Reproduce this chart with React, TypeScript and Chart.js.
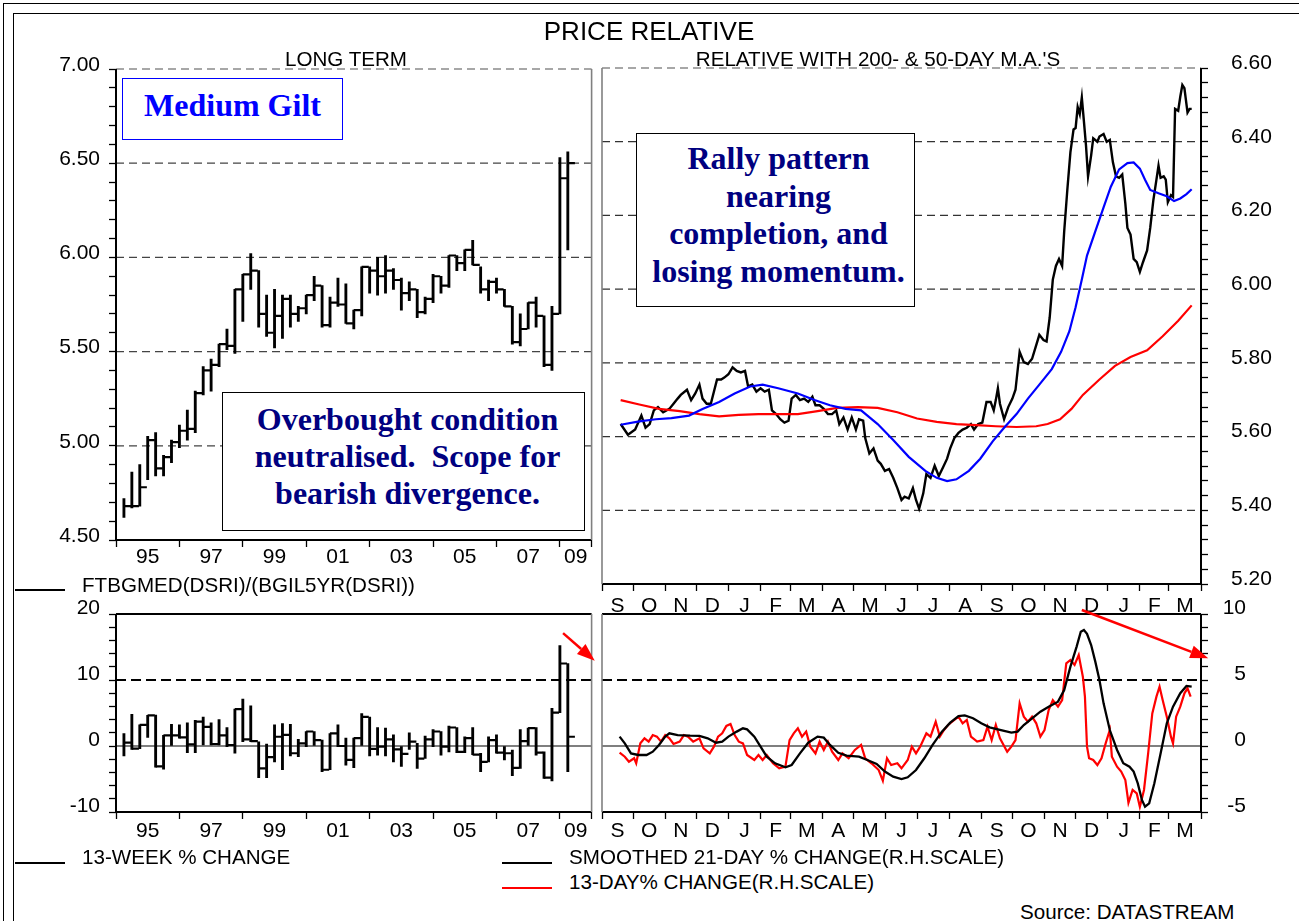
import React, { useEffect, useRef } from "react";
import { Chart, registerables } from "chart.js";

Chart.register(...registerables);

const SANS = '"Liberation Sans", Arial, Helvetica, sans-serif';
const SERIF = '"Liberation Serif", "Times New Roman", serif';
const TICK_FONT = 21;
const TEXT_FONT = 20.6;

// ================= LONG TERM (quarterly) =================
const LT_QUARTERS = [
  "1995Q1","1995Q2","1995Q3","1995Q4","1996Q1","1996Q2","1996Q3","1996Q4",
  "1997Q1","1997Q2","1997Q3","1997Q4","1998Q1","1998Q2","1998Q3","1998Q4",
  "1999Q1","1999Q2","1999Q3","1999Q4","2000Q1","2000Q2","2000Q3","2000Q4",
  "2001Q1","2001Q2","2001Q3","2001Q4","2002Q1","2002Q2","2002Q3","2002Q4",
  "2003Q1","2003Q2","2003Q3","2003Q4","2004Q1","2004Q2","2004Q3","2004Q4",
  "2005Q1","2005Q2","2005Q3","2005Q4","2006Q1","2006Q2","2006Q3","2006Q4",
  "2007Q1","2007Q2","2007Q3","2007Q4","2008Q1","2008Q2","2008Q3","2008Q4",
  "2009Q1",
];
const LT_HIGH = [4.72,4.86,4.90,5.05,5.07,4.95,5.03,5.11,5.19,5.29,5.42,5.46,5.54,5.62,5.83,5.91,6.02,5.93,5.80,5.83,5.80,5.80,5.74,5.80,5.90,5.85,5.79,5.89,5.86,5.72,5.95,5.95,6.00,6.01,5.94,5.89,5.87,5.83,5.79,5.91,5.90,6.01,6.01,6.04,6.09,5.95,5.88,5.89,5.83,5.74,5.70,5.76,5.79,5.69,5.74,6.53,6.56];
const LT_LOW = [4.62,4.67,4.68,4.82,4.84,4.84,4.91,4.99,5.03,5.07,5.27,5.29,5.42,5.51,5.49,5.66,5.83,5.63,5.58,5.52,5.57,5.63,5.66,5.70,5.77,5.63,5.63,5.74,5.65,5.62,5.69,5.81,5.80,5.81,5.83,5.72,5.77,5.68,5.70,5.76,5.81,5.84,5.93,5.93,5.96,5.81,5.77,5.81,5.74,5.54,5.53,5.62,5.63,5.42,5.40,5.70,6.04];
const LT_CLOSE = [4.68,4.68,4.78,5.03,4.88,4.94,5.02,5.08,5.09,5.28,5.40,5.43,5.54,5.53,5.83,5.91,5.93,5.70,5.60,5.69,5.78,5.70,5.73,5.80,5.85,5.64,5.76,5.75,5.65,5.72,5.95,5.93,5.90,5.93,5.88,5.81,5.83,5.71,5.78,5.90,5.85,6.01,5.97,6.04,5.96,5.83,5.87,5.83,5.74,5.55,5.62,5.76,5.69,5.43,5.70,6.42,6.50];

// 13-week % change (quarterly bars)
const W13_HIGH = [1.9,4.8,3.2,4.65,4.7,1.6,3.3,3.2,3.5,3.9,4.4,3.5,4.0,2.8,5.6,7.1,6.1,0.65,0.3,3.2,3.4,3.3,1.0,2.2,2.2,0.9,1.9,3.2,1.2,1.2,4.9,4.4,2.8,2.7,1.7,-0.1,2.0,0.4,1.5,2.5,2.2,3.0,2.8,1.4,2.8,-1.1,1.4,1.7,-0.1,-0.6,2.5,2.7,2.8,-0.9,5.7,15.2,12.5];
const W13_LOW = [-1.5,-0.5,-0.4,1.3,-3.2,-3.5,0,1.2,-1.0,-1.0,0.15,0.15,0.15,-0.1,-1.1,0.65,0.65,-4.8,-4.8,-2.4,-3.6,-1.5,-1.6,-0.1,0,-3.9,-3.6,-0.1,-2.9,-3.3,0,-1.5,-1.4,-1.5,-2.4,-3.1,-0.5,-3.4,-1.9,-0.1,-1.4,-0.9,-1.0,-1.0,-1.3,-3.9,-2.4,-1.1,-2.1,-4.5,-3.4,0,-1.4,-4.9,-5.3,5.05,-3.9];
const W13_CLOSE = [0.5,-0.4,3.2,4.65,-3.1,1.6,1.6,1.3,0.25,3.7,2.9,0.3,1.6,0.15,5.6,1.0,0.75,-3.4,-1.7,1.4,1.7,-1.1,0.4,2.2,0.9,-3.6,1.9,0,-2.1,1.2,4.4,-0.45,-0.1,1.0,-0.5,-1.2,0.65,-1.9,1.0,2.2,-0.1,2.8,-0.9,1.2,-1.3,-2.4,0.9,-1.0,-1.1,-3.3,0.75,2.7,-1.0,-4.8,5.05,12.5,1.4];

const YEAR_MARKS = [1995, 1997, 1999, 2001, 2003, 2005, 2007, 2009, 2010];
const YEAR_LABEL_POS = [1996, 1998, 2000, 2002, 2004, 2006, 2008, 2009.5];
const YEAR_LABELS = ["95", "97", "99", "01", "03", "05", "07", "09"];

// ================= DAILY (days since 1 Sep 2007) =================
const MONTH_LABELS = ["S","O","N","D","J","F","M","A","M","J","J","A","S","O","N","D","J","F","M"];
const MONTH_LENGTHS = [30,31,30,31,31,29,31,30,31,30,31,31,30,31,30,31,31,28,31];

const REL_DAYS = [18,25,32,38,42,46,50,54,59,65,69,73,76,82,86,90,94,97,101,105,111,115,118,122,126,130,134,138,141,145,149,153,157,161,164,168,172,176,180,183,187,191,195,199,203,206,210,214,218,222,226,229,233,237,241,245,248,252,254,258,262,266,269,273,277,281,285,289,292,296,300,303,306,310,313,317,321,325,329,333,336,340,344,348,352,356,359,363,367,371,375,378,380,382,384,388,392,396,399,403,407,411,415,419,422,426,429,432,435,438,441,444,446,449,452,455,457,459,461,463,465,467,469,472,474,478,480,484,487,490,493,496,499,502,505,507,510,513,516,519,522,526,529,532,535,537,539,542,544,546,549,551,553,556,558,560,562,565,567,569];
const REL_VALUES = [5.634,5.605,5.619,5.657,5.624,5.634,5.671,5.68,5.666,5.675,5.689,5.703,5.713,5.727,5.699,5.717,5.741,5.703,5.689,5.689,5.755,5.755,5.76,5.769,5.788,5.778,5.774,5.778,5.736,5.741,5.722,5.731,5.722,5.727,5.671,5.661,5.647,5.638,5.643,5.703,5.713,5.699,5.703,5.694,5.708,5.685,5.685,5.675,5.661,5.661,5.671,5.634,5.652,5.619,5.652,5.619,5.647,5.643,5.596,5.554,5.568,5.535,5.526,5.507,5.512,5.488,5.46,5.428,5.437,5.432,5.46,5.428,5.404,5.446,5.498,5.488,5.521,5.493,5.516,5.54,5.568,5.596,5.61,5.619,5.624,5.634,5.619,5.634,5.638,5.694,5.694,5.671,5.699,5.731,5.689,5.647,5.68,5.703,5.727,5.83,5.802,5.797,5.811,5.848,5.876,5.862,5.858,5.923,6.026,6.063,6.082,6.063,6.157,6.269,6.372,6.433,6.437,6.494,6.475,6.52,6.456,6.391,6.306,6.363,6.409,6.4,6.414,6.421,6.4,6.405,6.344,6.306,6.302,6.311,6.232,6.166,6.148,6.082,6.073,6.047,6.073,6.105,6.166,6.241,6.297,6.335,6.302,6.306,6.297,6.236,6.255,6.25,6.489,6.484,6.522,6.554,6.545,6.479,6.489,6.489];

const MA50_DAYS = [18,36,52,67,84,97,113,128,143,155,170,189,205,220,235,250,266,281,296,312,323,333,342,354,365,377,388,400,411,422,434,443,451,457,463,468,476,484,491,499,507,513,519,524,529,537,545,552,558,564,569];
const MA50_VALUES = [5.632,5.641,5.647,5.65,5.657,5.675,5.694,5.717,5.736,5.741,5.731,5.717,5.699,5.685,5.675,5.671,5.634,5.591,5.545,5.507,5.488,5.479,5.484,5.507,5.54,5.587,5.624,5.661,5.703,5.741,5.783,5.83,5.886,5.951,6.026,6.091,6.157,6.222,6.278,6.325,6.342,6.344,6.327,6.297,6.269,6.26,6.252,6.239,6.246,6.258,6.271];

const MA200_DAYS = [18,36,55,75,94,113,132,151,170,189,208,227,247,266,285,304,323,342,361,380,400,419,430,442,453,464,480,495,510,526,541,556,569];
const MA200_VALUES = [5.699,5.687,5.675,5.669,5.661,5.655,5.659,5.661,5.661,5.661,5.669,5.678,5.68,5.678,5.666,5.649,5.64,5.634,5.631,5.628,5.626,5.628,5.634,5.647,5.675,5.713,5.755,5.792,5.816,5.834,5.872,5.914,5.956];

const SM21_DAYS = [17,22,28,35,43,49,55,61,65,73,85,94,102,110,116,122,130,136,140,147,153,159,167,177,183,191,199,208,214,220,228,236,248,256,265,273,281,289,295,303,311,319,328,336,344,350,358,366,374,385,395,401,407,415,423,431,440,446,452,458,462,465,468,472,476,480,484,490,497,503,509,513,517,521,524,528,533,539,545,551,558,564,569];
const SM21_VALUES = [0.71,0.2,-0.56,-0.68,-0.68,-0.43,0.08,0.71,0.96,0.83,0.78,0.76,0.58,0.25,0.33,0.71,1.09,1.34,1.26,0.71,-0.05,-0.81,-1.31,-1.62,-1.44,-0.56,0.25,0.71,0.63,0.08,-0.51,-0.73,-0.81,-1.06,-1.36,-1.94,-2.32,-2.5,-2.37,-1.82,-0.93,0.08,1.09,1.77,2.27,2.32,2.1,1.72,1.41,1.21,1.01,1.09,1.59,2.1,2.6,2.98,3.36,4.24,6.01,7.53,8.66,8.79,8.5,7.65,6.39,5.0,3.23,1.21,-0.3,-1.31,-1.57,-1.94,-2.83,-4.09,-4.6,-4.34,-2.83,-0.56,1.72,2.98,4.0,4.55,4.5];

const CH13_DAYS = [17,22,26,31,33,37,41,45,49,53,57,61,65,69,75,79,83,88,94,98,104,108,112,116,120,124,128,132,136,140,147,151,155,159,165,171,177,181,185,189,193,197,201,206,210,214,218,222,228,232,238,244,250,254,260,267,271,275,279,285,289,295,299,303,307,313,317,322,326,330,334,340,344,348,352,356,362,368,372,376,380,384,391,395,399,403,407,411,415,419,423,427,431,435,440,444,448,452,456,460,464,466,468,470,474,478,482,486,490,492,497,501,505,508,512,516,519,523,527,531,535,538,541,545,549,551,554,558,562,565,568];
const CH13_VALUES = [-0.5,-0.81,-1.19,-0.93,-1.31,0.2,0.58,0.33,0.83,0.71,0.33,0.83,0.58,0.15,0.33,0.83,0.71,0.33,0.58,-0.18,-0.56,-0.05,0.71,0.96,1.52,1.67,0.83,0.33,0.2,-0.68,-1.06,-0.68,-1.06,-0.68,-1.31,-1.69,-1.57,0.45,0.96,1.34,0.71,1.09,-0.05,-0.56,0.33,-0.3,0.33,-0.43,-1.06,-0.56,-0.93,-0.3,0.08,-0.93,-1.31,-1.82,-2.63,-0.93,-1.44,-1.31,-1.69,-1.06,-0.05,-0.56,-0.05,0.96,0.71,1.84,0.71,1.21,1.59,1.97,2.22,1.72,1.97,0.71,0.33,0.45,1.46,0.45,1.59,0.58,-0.43,-0.05,0.45,3.23,2.22,1.84,2.22,1.72,0.71,1.21,2.73,3.48,2.98,3.48,6.26,6.52,6.14,6.89,5.25,3.74,-0.05,-0.93,-1.06,-1.44,-0.93,0.2,1.21,-0.81,-1.57,-1.94,-2.58,-4.3,-3.33,-3.59,-4.6,-3.33,-0.56,2.47,3.74,4.49,3.48,2.22,0.71,0.2,2.22,2.98,3.99,4.37,3.74];

// ================= helpers =================
const quarterEnd = (q: string) => Number(q.slice(0, 4)) + Number(q.slice(5)) * 0.25;
const CLOSE_TICK_SHIFT = 0.11;

const MONTH_STARTS = MONTH_LENGTHS.reduce((acc: number[], len) => { acc.push(acc[acc.length - 1] + len); return acc; }, [0]);
const MONTH_MIDS = MONTH_LENGTHS.map((len, i) => MONTH_STARTS[i] + len / 2);
const DAY_MAX = MONTH_STARTS[MONTH_STARTS.length - 1];

function range(min: number, max: number, step: number) {
  const out: number[] = [];
  const n = Math.round((max - min) / step);
  for (let i = 0; i <= n; i++) out.push(Math.round((min + i * step) * 1e6) / 1e6);
  return out;
}
const isMultiple = (v: number, step: number) => Math.abs(v / step - Math.round(v / step)) < 1e-6;
const pts = (xs: number[], ys: number[]) => xs.map((x, i) => ({ x, y: ys[i] }));

function yAxis(p: any) {
  const values = range(p.min, p.max, p.minor);
  return {
    type: "linear",
    position: p.position,
    min: p.min,
    max: p.max,
    afterBuildTicks: (s: any) => { s.ticks = values.map((v) => ({ value: v })); },
    afterFit: (s: any) => { s.width = p.width; s.paddingTop = 0; s.paddingBottom = 0; s.paddingLeft = 0; s.paddingRight = 0; },
    border: { display: false },
    grid: { drawOnChartArea: false, drawTicks: true, tickLength: 7, tickColor: "#000", tickWidth: 1.3 },
    ticks: {
      autoSkip: false,
      padding: p.padding,
      crossAlign: p.crossAlign || "near",
      labelOffset: p.labelOffset,
      color: "#000",
      font: { family: SANS, size: TICK_FONT },
      callback: (v: number) => (isMultiple(v, p.major) ? v.toFixed(p.decimals) : ""),
    },
  };
}

function xAxis(p: any) {
  const labelMap = new Map<number, string>(p.labelPos.map((v: number, i: number) => [v, p.labels[i]]));
  const all = [...p.marks, ...p.labelPos].sort((a: number, b: number) => a - b);
  return {
    type: "linear",
    position: "bottom",
    min: p.min,
    max: p.max,
    offset: false,
    afterBuildTicks: (s: any) => { s.ticks = all.map((v: number) => ({ value: v })); },
    afterFit: (s: any) => { s.height = p.height; s.paddingTop = 0; s.paddingBottom = 0; s.paddingLeft = 0; s.paddingRight = 0; },
    border: { display: false },
    grid: {
      offset: false,
      drawOnChartArea: false,
      drawTicks: true,
      tickLength: 7,
      tickWidth: 1.3,
      tickColor: (c: any) => (c.tick && labelMap.has(c.tick.value) ? "rgba(0,0,0,0)" : "#000"),
    },
    ticks: {
      autoSkip: false,
      maxRotation: 0,
      minRotation: 0,
      padding: p.padding,
      color: "#000",
      font: { family: SANS, size: TICK_FONT },
      callback: (v: number) => labelMap.get(v) ?? "",
    },
  };
}

type Stroke = { color: string; width: number; dash?: number[] };

function framePlugin(f: { top?: Stroke; right?: Stroke; bottom?: Stroke; left?: Stroke }) {
  return {
    id: "frame",
    afterDatasetsDraw(chart: any) {
      const { ctx, chartArea: a } = chart;
      const seg = (s: Stroke | undefined, x1: number, y1: number, x2: number, y2: number) => {
        if (!s) return;
        ctx.save();
        ctx.strokeStyle = s.color;
        ctx.lineWidth = s.width;
        ctx.setLineDash(s.dash || []);
        ctx.beginPath();
        ctx.moveTo(x1, y1);
        ctx.lineTo(x2, y2);
        ctx.stroke();
        ctx.restore();
      };
      seg(f.top, a.left, a.top, a.right, a.top);
      seg(f.bottom, a.left, a.bottom, a.right, a.bottom);
      seg(f.left, a.left, a.top, a.left, a.bottom);
      seg(f.right, a.right, a.top, a.right, a.bottom);
    },
  };
}

function refLinesPlugin(lines: { value: number; stroke: Stroke }[]) {
  return {
    id: "refLines",
    beforeDatasetsDraw(chart: any) {
      const { ctx, chartArea: a } = chart;
      const y = chart.scales.y;
      lines.forEach((l) => {
        const py = y.getPixelForValue(l.value);
        ctx.save();
        ctx.strokeStyle = l.stroke.color;
        ctx.lineWidth = l.stroke.width;
        ctx.setLineDash(l.stroke.dash || []);
        ctx.beginPath();
        ctx.moveTo(a.left, py);
        ctx.lineTo(a.right, py);
        ctx.stroke();
        ctx.restore();
      });
    },
  };
}

function arrowPlugin(arrows: { from: [number, number]; to: [number, number] }[]) {
  return {
    id: "arrows",
    afterDraw(chart: any) {
      const { ctx } = chart;
      const xs = chart.scales.x;
      const ys = chart.scales.y;
      arrows.forEach((ar) => {
        const x1 = xs.getPixelForValue(ar.from[0]);
        const y1 = ys.getPixelForValue(ar.from[1]);
        const x2 = xs.getPixelForValue(ar.to[0]);
        const y2 = ys.getPixelForValue(ar.to[1]);
        const ang = Math.atan2(y2 - y1, x2 - x1);
        const L = 18, W = 6.5;
        const bx = x2 - L * Math.cos(ang);
        const by = y2 - L * Math.sin(ang);
        ctx.save();
        ctx.strokeStyle = "#ff0000";
        ctx.fillStyle = "#ff0000";
        ctx.lineWidth = 2.5;
        ctx.beginPath();
        ctx.moveTo(x1, y1);
        ctx.lineTo(bx, by);
        ctx.stroke();
        ctx.beginPath();
        ctx.moveTo(x2, y2);
        ctx.lineTo(bx + W * Math.sin(ang), by - W * Math.cos(ang));
        ctx.lineTo(bx - W * Math.sin(ang), by + W * Math.cos(ang));
        ctx.closePath();
        ctx.fill();
        ctx.restore();
      });
    },
  };
}

const BASE = {
  responsive: false,
  maintainAspectRatio: false,
  animation: false,
  devicePixelRatio: 1,
  events: [],
  plugins: { legend: { display: false }, tooltip: { enabled: false }, title: { display: false } },
};

const DASH_TOP: Stroke = { color: "#444", width: 1.3, dash: [8, 5] };
const DASH_EDGE: Stroke = { color: "#8a8a8a", width: 1.3, dash: [8, 5] };
const SOLID_BLACK: Stroke = { color: "#000", width: 2 };
const SOLID_GRAY: Stroke = { color: "#808080", width: 1.6 };

function hlcDatasets(highs: number[], lows: number[], closes: number[]) {
  const xs = LT_QUARTERS.map(quarterEnd);
  return [
    {
      type: "bar",
      data: xs.map((x, i) => ({ x, y: [lows[i], highs[i]] })),
      backgroundColor: "#000",
      borderWidth: 0,
      barThickness: 2.2,
      order: 2,
    },
    {
      type: "scatter",
      data: xs.map((x, i) => ({ x: x + CLOSE_TICK_SHIFT, y: closes[i] })),
      pointStyle: "line",
      pointRadius: 3.6,
      pointBorderWidth: 2.2,
      pointBorderColor: "#000",
      pointBackgroundColor: "#000",
      order: 1,
    },
  ];
}

function configLongTerm(): any {
  return {
    type: "bar",
    data: { datasets: hlcDatasets(LT_HIGH, LT_LOW, LT_CLOSE) },
    options: {
      ...BASE,
      layout: { padding: { left: 0, top: 29, right: 8.4, bottom: 0 } },
      scales: {
        x: xAxis({ min: 1995, max: 2010, marks: YEAR_MARKS, labelPos: YEAR_LABEL_POS, labels: YEAR_LABELS, height: 40, padding: -2 }),
        y: yAxis({ position: "left", min: 4.5, max: 7.0, minor: 0.1, major: 0.5, decimals: 2, width: 116, padding: 9, labelOffset: -4 }),
      },
    },
    plugins: [
      refLinesPlugin([5.0, 5.5, 6.0, 6.5].map((value) => ({ value, stroke: DASH_TOP }))),
      framePlugin({ top: DASH_EDGE, right: SOLID_GRAY, bottom: SOLID_BLACK, left: SOLID_BLACK }),
    ],
  };
}

function configWeekly(): any {
  return {
    type: "bar",
    data: { datasets: hlcDatasets(W13_HIGH, W13_LOW, W13_CLOSE) },
    options: {
      ...BASE,
      layout: { padding: { left: 0, top: 18, right: 8.4, bottom: 0 } },
      scales: {
        x: xAxis({ min: 1995, max: 2010, marks: YEAR_MARKS, labelPos: YEAR_LABEL_POS, labels: YEAR_LABELS, height: 46, padding: 0 }),
        y: yAxis({ position: "left", min: -10, max: 20, minor: 2, major: 10, decimals: 0, width: 116, padding: 9, labelOffset: -6 }),
      },
    },
    plugins: [
      refLinesPlugin([
        { value: 10, stroke: { color: "#000", width: 2, dash: [10, 5] } },
        { value: 0, stroke: { color: "#000", width: 1.2 } },
      ]),
      framePlugin({ top: SOLID_BLACK, right: SOLID_GRAY, bottom: SOLID_BLACK, left: SOLID_BLACK }),
      arrowPlugin([{ from: [2009.1, 17.1], to: [2010.1, 12.9] }]),
    ],
  };
}

function configRelative(): any {
  return {
    type: "scatter",
    data: {
      datasets: [
        { data: pts(MA50_DAYS, MA50_VALUES), showLine: true, borderColor: "#0000ff", borderWidth: 2.2, pointRadius: 0, order: 1 },
        { data: pts(MA200_DAYS, MA200_VALUES), showLine: true, borderColor: "#ff0000", borderWidth: 2.2, pointRadius: 0, order: 2 },
        { data: pts(REL_DAYS, REL_VALUES), showLine: true, borderColor: "#000", borderWidth: 2.4, pointRadius: 0, order: 3 },
      ],
    },
    options: {
      ...BASE,
      layout: { padding: { left: 12, top: 28, right: 0, bottom: 0 } },
      scales: {
        x: xAxis({ min: 0, max: DAY_MAX, marks: MONTH_STARTS, labelPos: MONTH_MIDS, labels: MONTH_LABELS, height: 36, padding: 3 }),
        y: yAxis({ position: "right", min: 5.2, max: 6.6, minor: 0.04, major: 0.2, decimals: 2, width: 98, padding: 23, labelOffset: -5 }),
      },
    },
    plugins: [
      refLinesPlugin([5.4, 5.6, 5.8, 6.0, 6.2, 6.4].map((value) => ({ value, stroke: { color: "#333", width: 1.3, dash: [8, 5] } }))),
      framePlugin({ top: DASH_EDGE, left: SOLID_GRAY, bottom: SOLID_BLACK, right: SOLID_BLACK }),
    ],
  };
}

function configMomentum(): any {
  return {
    type: "scatter",
    data: {
      datasets: [
        { data: pts(SM21_DAYS, SM21_VALUES), showLine: true, borderColor: "#000", borderWidth: 2.3, pointRadius: 0, order: 1 },
        { data: pts(CH13_DAYS, CH13_VALUES), showLine: true, borderColor: "#ff0000", borderWidth: 2.2, pointRadius: 0, order: 2 },
      ],
    },
    options: {
      ...BASE,
      layout: { padding: { left: 12, top: 18, right: 53, bottom: 0 } },
      scales: {
        x: xAxis({ min: 0, max: DAY_MAX, marks: MONTH_STARTS, labelPos: MONTH_MIDS, labels: MONTH_LABELS, height: 46, padding: 0 }),
        y: yAxis({ position: "right", min: -5, max: 10, minor: 1, major: 5, decimals: 0, width: 45, padding: 8, crossAlign: "far", labelOffset: -6 }),
      },
    },
    plugins: [
      refLinesPlugin([
        { value: 5, stroke: { color: "#000", width: 2, dash: [10, 5] } },
        { value: 0, stroke: { color: "#000", width: 1.2 } },
      ]),
      framePlugin({ top: SOLID_BLACK, left: SOLID_GRAY, bottom: SOLID_BLACK, right: SOLID_BLACK }),
      arrowPlugin([{ from: [463, 10.3], to: [585, 6.65] }]),
    ],
  };
}

function Txt(props: { x: number; y: number; size?: number; color?: string; align?: string; children: any }) {
  const size = props.size ?? TEXT_FONT;
  const style: any = {
    position: "absolute",
    top: props.y - size / 2,
    fontSize: size,
    lineHeight: `${size}px`,
    color: props.color ?? "#000",
    whiteSpace: "pre",
    fontFamily: SANS,
  };
  if (props.align === "center") {
    style.left = props.x - 400;
    style.width = 800;
    style.textAlign = "center";
  } else {
    style.left = props.x;
  }
  return <div style={style}>{props.children}</div>;
}

function Seg(props: { x: number; y: number; w: number; color?: string }) {
  return (
    <div style={{ position: "absolute", left: props.x, top: props.y - 1, width: props.w, height: 2, background: props.color ?? "#000" }} />
  );
}

function NoteBox(props: { left: number; top: number; width: number; height: number; border: string; color: string; padTop: number; padLeft?: number; lineHeight: number; lines: string[] }) {
  return (
    <div
      style={{
        position: "absolute",
        left: props.left,
        top: props.top,
        width: props.width,
        height: props.height,
        boxSizing: "border-box",
        border: `1px solid ${props.border}`,
        background: "#fff",
        paddingTop: props.padTop,
        paddingLeft: props.padLeft ?? 0,
        fontFamily: SERIF,
        fontWeight: "bold",
        fontSize: 32,
        lineHeight: `${props.lineHeight}px`,
        color: props.color,
        textAlign: "center",
      }}
    >
      {props.lines.map((l, i) => (
        <div key={i} style={{ whiteSpace: "pre" }}>{l}</div>
      ))}
    </div>
  );
}

export default function App() {
  const refA = useRef<HTMLCanvasElement>(null);
  const refB = useRef<HTMLCanvasElement>(null);
  const refC = useRef<HTMLCanvasElement>(null);
  const refD = useRef<HTMLCanvasElement>(null);

  useEffect(() => {
    const charts: Chart[] = [];
    if (refA.current) charts.push(new Chart(refA.current, configLongTerm()));
    if (refB.current) charts.push(new Chart(refB.current, configRelative()));
    if (refC.current) charts.push(new Chart(refC.current, configWeekly()));
    if (refD.current) charts.push(new Chart(refD.current, configMomentum()));
    return () => charts.forEach((c) => c.destroy());
  }, []);

  const cv = (left: number, top: number): any => ({ position: "absolute", left, top });

  return (
    <div style={{ position: "absolute", left: 0, top: 0, width: 1299, height: 921, background: "#fff", overflow: "hidden", fontFamily: SANS }}>
      <div style={{ position: "absolute", left: 3, top: 3, width: 1320, height: 1000, border: "1.5px solid #000" }} />
      <div style={{ position: "absolute", left: 13, top: 13, width: 1320, height: 1000, border: "1.5px solid #000" }} />

      <canvas ref={refA} width={600} height={540} style={cv(0, 40)} />
      <canvas ref={refB} width={709} height={580} style={cv(590, 40)} />
      <canvas ref={refC} width={600} height={262} style={cv(0, 596)} />
      <canvas ref={refD} width={709} height={262} style={cv(590, 596)} />

      <Txt x={649} y={31} size={26} align="center">PRICE RELATIVE</Txt>
      <Txt x={346} y={59} align="center">LONG TERM</Txt>
      <Txt x={878} y={59} align="center">RELATIVE WITH 200- &amp; 50-DAY M.A.'S</Txt>

      <Seg x={15} y={590} w={50} />
      <Txt x={82} y={585}>FTBGMED(DSRI)/(BGIL5YR(DSRI))</Txt>

      <Seg x={15} y={863} w={50} />
      <Txt x={82} y={857}>13-WEEK % CHANGE</Txt>
      <Seg x={502} y={863} w={50} />
      <Txt x={569} y={857}>SMOOTHED 21-DAY % CHANGE(R.H.SCALE)</Txt>
      <Seg x={502} y={888} w={50} color="#ff0000" />
      <Txt x={569} y={882}>13-DAY% CHANGE(R.H.SCALE)</Txt>
      <Txt x={1020} y={912}>Source: DATASTREAM</Txt>

      <NoteBox left={122} top={78} width={221} height={62} border="#0000ff" color="#0000ff" padTop={8} lineHeight={37} lines={["Medium Gilt"]} />
      <NoteBox
        left={222}
        top={392}
        width={363}
        height={139}
        border="#000"
        color="#000080"
        padTop={8}
        padLeft={8}
        lineHeight={37}
        lines={["Overbought condition", "neutralised.  Scope for", "bearish divergence."]}
      />
      <NoteBox
        left={636}
        top={133}
        width={279}
        height={174}
        border="#000"
        color="#000080"
        padTop={6}
        padLeft={6}
        lineHeight={37.5}
        lines={["Rally pattern", "nearing", "completion, and", "losing momentum."]}
      />
    </div>
  );
}
